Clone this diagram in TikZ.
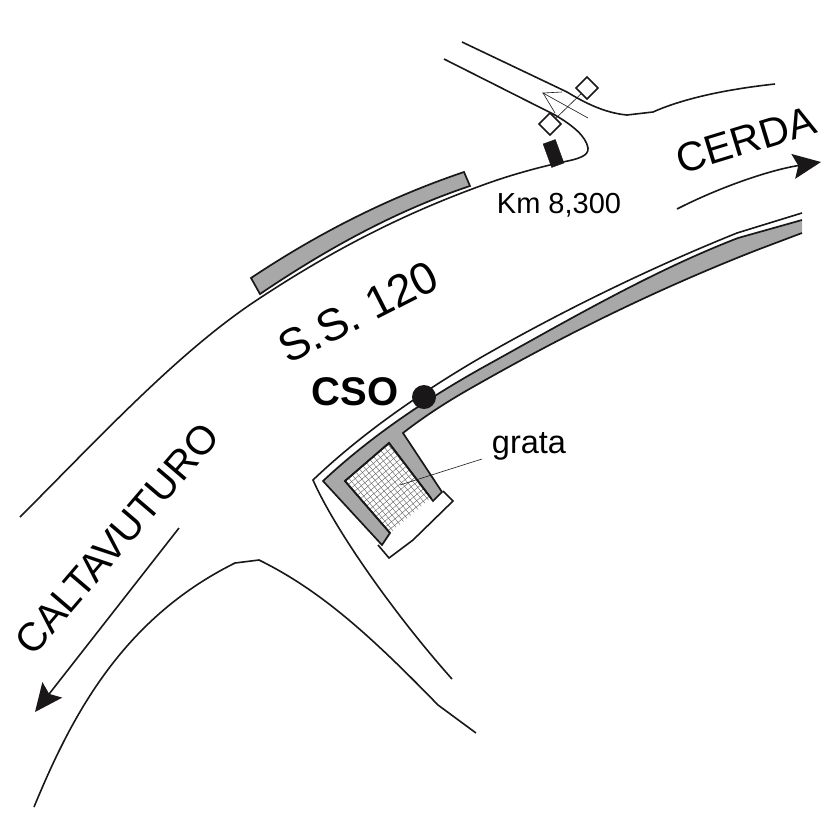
\documentclass[tikz,border=0pt]{standalone}
\usepackage{fontspec}
\setmainfont{Liberation Sans}
\usetikzlibrary{arrows.meta}
\definecolor{ink}{HTML}{1A1718}
\definecolor{wall}{HTML}{A8A8A8}
\tikzset{
  road/.style={draw=ink,line width=1.6pt,line join=miter},
  wallside/.style={draw=ink,fill=wall,line width=1.7pt,line join=miter},
  thinline/.style={draw=ink,line width=0.6pt},
  signbox/.style={draw=ink,fill=white,line width=1.6pt},
  direction/.style={draw=ink,line width=1.6pt,-{Stealth[length=28pt,width=25pt,inset=5pt,fill=ink]}},
}
\newcommand{\lab}[1]{\fontsize{#1}{#1}\selectfont}
\begin{document}
\begin{tikzpicture}[x=1pt,y=-1pt]
\useasboundingbox (0,0) rectangle (828,828);
% gray strip beside the road
\path[wallside] (251,278) .. controls (320,232) and (390,197) .. (464,172) -- (470,186)
  .. controls (395,211) and (325,250) .. (260,294) -- cycle;
% road, north side
\path[road] (20,517) .. controls (100,437) and (180,350) .. (260,298)
  .. controls (330,252) and (400,215) .. (483,185)
  .. controls (510,175) and (540,167) .. (563,162)
  .. controls (578,159) and (589,156) .. (588,148)
  .. controls (586,136) and (572,125) .. (555,115) -- (444,59);
\path[road] (462,42) -- (567,92) .. controls (585,103) and (605,113) .. (627,115) -- (653,112)
  .. controls (680,100) and (720,90) .. (775,84);
% side road, south
\path[road] (34,807) .. controls (70,720) and (120,620) .. (235,563) -- (259,560)
  .. controls (320,590) and (370,635) .. (438,705) -- (476,733);
% road, south side
\path[road] (802,213) -- (737,233) .. controls (650,268) and (560,312) .. (480,358)
  .. controls (420,393) and (360,435) .. (313,480)
  .. controls (335,530) and (395,615) .. (452,679);
% small building
\path[road] (443,491) -- (453,501) -- (413,540) -- (389,558) -- (378,545);
% wall of the plant
\path[wallside] (802,220) -- (738,238) .. controls (650,272) and (565,322) .. (480,369)
  .. controls (425,400) and (370,437) .. (323,481)
  -- (382,545) -- (390,533) -- (345,481) -- (389,443) -- (433,501) -- (442,492) -- (403,433)
  .. controls (430,412) and (455,397) .. (480,383)
  .. controls (570,332) and (660,288) .. (757,250) -- (802,233);
\fill[white] (803,215) rectangle (810,240);
% grating
\begin{scope}
\clip (345,481) -- (389,443) -- (431,498) -- (390,533) -- cycle;
\begin{scope}[shift={(345,481)},rotate=40]
\foreach \i in {-30,...,30}{
  \draw[ink!75,line width=0.35pt] (\i*4.7,-160) -- (\i*4.7,160);
  \draw[ink!75,line width=0.35pt] (-160,\i*4.7) -- (160,\i*4.7);
}
\end{scope}
\end{scope}
\draw[ink,line width=1.7pt] (390,533) -- (345,481) -- (389,443) -- (431,498);
\node[inner sep=0pt] (grata) at (529,446) {\lab{32.5}grata};
\coordinate (gratapt) at (400,485);
\draw[thinline] (482,459) -- (gratapt);
% CSO point
\node[circle,fill=ink,minimum size=24pt,inner sep=0pt] (cso) at (424,397) {};
\node[inner sep=0pt] (csotext) at (355,392) {\lab{40}\bfseries CSO};
% junction and signs
\node[draw=ink,fill=ink,inner sep=0pt,minimum width=13pt,minimum height=25pt,rotate=20] (marker) at (553.5,153.5) {};
\node[signbox,minimum size=15.5pt,inner sep=0pt,rotate=45] (signa) at (587,88) {};
\node[signbox,minimum size=15.5pt,inner sep=0pt,rotate=45] (signb) at (550,124) {};
\draw[thinline] (signa) -- (signb);
\coordinate (tip) at (543,93);
\draw[thinline] (588,118) -- (tip) -- (562,92);
\draw[thinline] (tip) -- (555,113);
% labels
\node[inner sep=0pt] (km) at (559,205) {\lab{29}Km 8,300};
\node[inner sep=0pt,rotate=27] (ss) at (358,312) {\lab{45}S.S. 120};
\node[inner sep=0pt,rotate=17] (cerda) at (746,140) {\lab{41}CERDA};
\node[inner sep=0pt,rotate=49.5] (caltavuturo) at (117,539) {\lab{40}CALTAVUTURO};
% directions
\draw[direction] (677,209) .. controls (720,187) and (770,170) .. (821,162);
\draw[direction] (179,528) -- (35,712);
\end{tikzpicture}
\end{document}
